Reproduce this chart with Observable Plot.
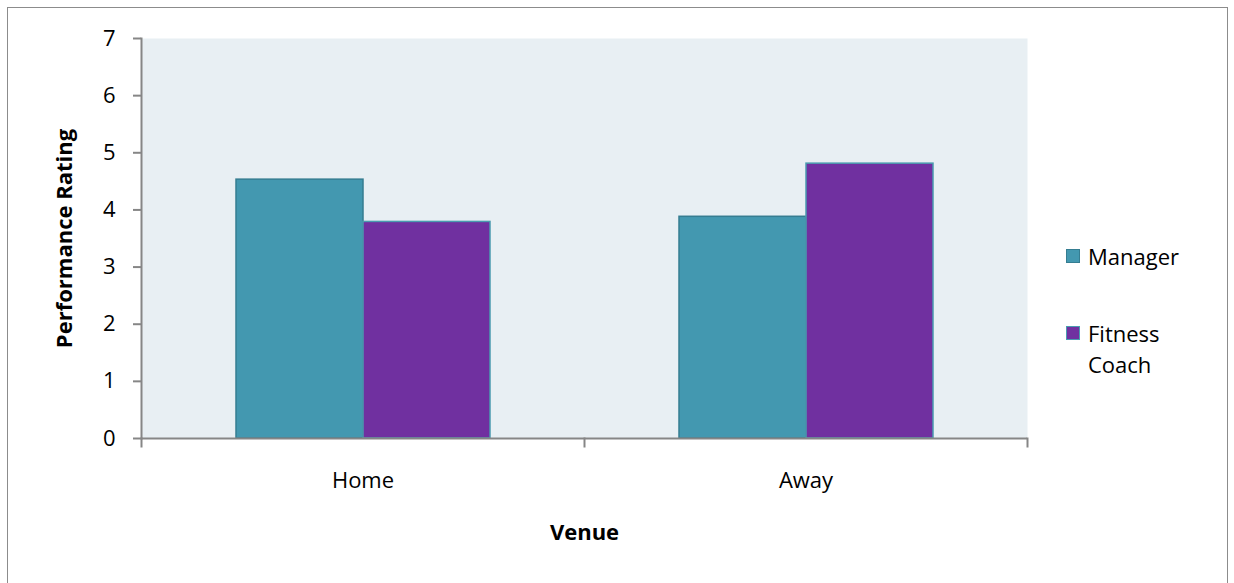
<!DOCTYPE html>
<html><head><meta charset="utf-8">
<script src="https://cdn.jsdelivr.net/npm/d3@7"></script>
<script src="https://cdn.jsdelivr.net/npm/@observablehq/plot@0.6"></script>
<style>
html,body{margin:0;padding:0;background:#fff;overflow:hidden}
#wrap{position:relative;width:1234px;height:583px;font-family:"Open Sans",sans-serif}
#border{position:absolute;left:7px;top:7px;width:1219px;height:600px;border:1.5px solid #8c8c8c;pointer-events:none}
#legend{position:absolute;left:1066px;top:241px;font-size:22px;line-height:31px;color:#000}
#legend .item{position:relative;padding-left:22px;width:100px}
#legend .item + .item{margin-top:46px}
#legend .sw{position:absolute;left:0;top:8px;width:12px;height:12px;border:1.5px solid}
svg g[aria-label="y-axis label"] text, svg g[aria-label="fx-axis label"] text{font-weight:bold}
</style>
</head><body>
<div id="wrap"><div id="border"></div><div id="legend"></div></div>
<script>
const venues = ["Home", "Away"];
const series = ["Manager", "Fitness Coach"];
const manager = [4.53, 3.88];
const coach = [3.79, 4.81];
const yTicks = [0, 1, 2, 3, 4, 5, 6, 7];

const fills = ["#4398B0", "#7030A0"];
const strokes = ["#357D91", "#4A9BB0"];
const axisGray = "#868686";

const rows = venues.flatMap((v, i) => [
  {venue: v, series: series[0], value: manager[i]},
  {venue: v, series: series[1], value: coach[i]}
]);

const chart = Plot.plot({
  width: 1234, height: 583,
  marginLeft: 141, marginRight: 207, marginTop: 38, marginBottom: 145,
  style: {fontFamily: '"Open Sans", sans-serif', fontSize: "22px", color: "#000", background: "transparent", overflow: "visible"},
  fx: {domain: venues, padding: 0, axis: null},
  x: {domain: series, paddingInner: 0, paddingOuter: 0.744, axis: null},
  y: {domain: [0, 7], axis: null},
  marks: [
    Plot.frame({fill: "#E8EFF3", stroke: "none", facet: "super"}),
    ...series.map((s, i) => Plot.barY(rows.filter(d => d.series === s), {
      fx: "venue", x: "series", y: "value", fill: fills[i], stroke: strokes[i], strokeWidth: 1.5
    })),
    Plot.ruleY([0], {stroke: axisGray, strokeWidth: 2}),
    Plot.frame({anchor: "left", facetAnchor: "left", stroke: axisGray, strokeWidth: 2}),
    Plot.frame({anchor: "left", insetTop: 400, insetBottom: -8, stroke: axisGray, strokeWidth: 2}),
    Plot.frame({anchor: "right", facetAnchor: "right", insetTop: 400, insetBottom: -8, stroke: axisGray, strokeWidth: 2}),
    Plot.axisY({ticks: yTicks, tickSize: 8, tickPadding: 18, stroke: axisGray, strokeWidth: 2, fill: "#000",
      tickFormat: d => String(d), label: "Performance Rating", labelAnchor: "center", labelArrow: "none", labelOffset: 85}),
    Plot.axisFx({anchor: "bottom", tickSize: 0, tickPadding: 34, fill: "#000", label: "Venue", labelAnchor: "center", labelArrow: "none", labelOffset: 101})
  ]
});
document.getElementById("wrap").prepend(chart);

const legend = document.getElementById("legend");
series.forEach((s, i) => {
  const item = document.createElement("div");
  item.className = "item";
  const sw = document.createElement("span");
  sw.className = "sw";
  sw.style.background = fills[i];
  sw.style.borderColor = strokes[i];
  item.appendChild(sw);
  item.appendChild(document.createTextNode(s));
  legend.appendChild(item);
});
</script>
</body></html>
